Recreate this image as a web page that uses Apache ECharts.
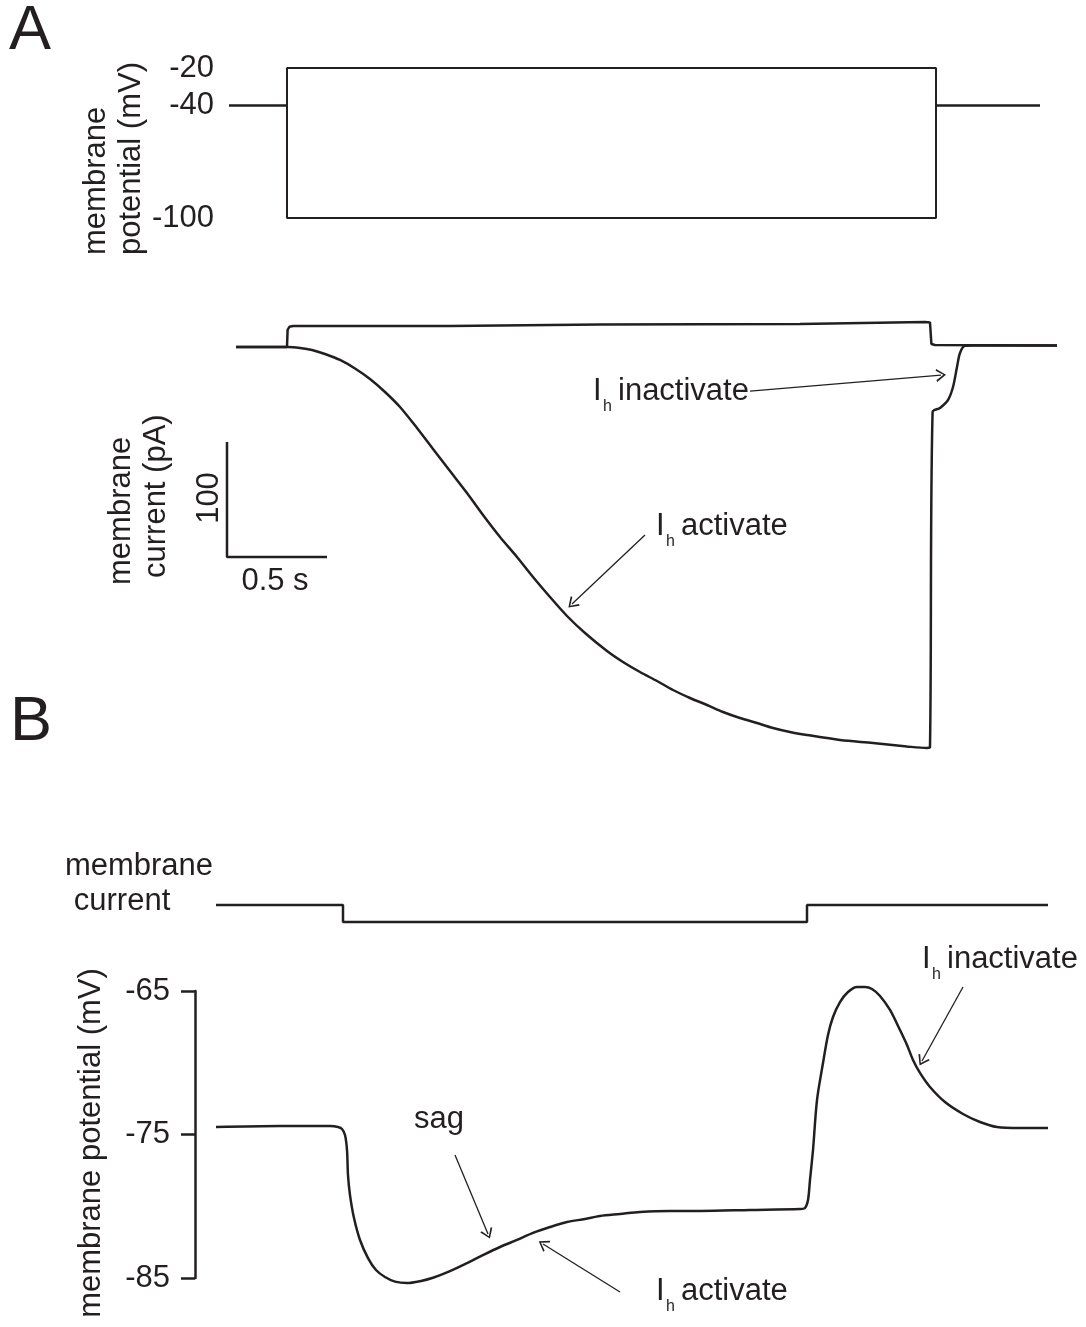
<!DOCTYPE html>
<html><head><meta charset="utf-8">
<script src="https://cdn.jsdelivr.net/npm/echarts@6/dist/echarts.min.js"></script>
<style>html,body{margin:0;padding:0;background:#fff}#c{width:1086px;height:1327px}</style>
</head><body><div id="c"></div>
<script>
// ---------- DATA (time in s, potential in mV, current in pA) ----------
// Panel A: voltage-clamp protocol (holding -40 mV, steps to -20 and -100 mV)
const aStepTo20 = [[-0.29,-40],[0,-40],[0,-20],[3.245,-20],[3.245,-40],[3.765,-40]];
const aStepTo100 = [[-0.29,-40],[0,-40],[0,-100],[3.245,-100],[3.245,-40],[3.765,-40]];
const aTickValues = [-20, -40, -100];
// Panel A: membrane currents
const aCurrentTo20 = [[-0.255,0],[0,0],[0.003,14.8],[0.012,17.6],[0.03,18.3],[0.815,18.3],[1.565,19.6],
  [2.565,20],[3.19,21.7],[3.215,21.3],[3.222,2.6],[3.24,1.7],[3.85,1.3]];
const aCurrentTo100 = [[-0.255,0],[0.005,0],[0.065,-0.87],[0.125,-2.61],[0.19,-6.09],[0.265,-11.3],
  [0.34,-18.7],[0.415,-27.83],[0.49,-39.13],[0.565,-52.17],[0.65,-70.43],[0.73,-88.7],[0.815,-107.83],
  [0.9,-126.96],[0.98,-146.09],[1.065,-165.22],[1.15,-182.61],[1.23,-200],[1.315,-217.39],[1.4,-233.91],
  [1.49,-248.7],[1.6,-264.35],[1.68,-273.91],[1.765,-282.61],[1.85,-290.43],[1.93,-298.26],[2.015,-305.22],
  [2.1,-311.3],[2.18,-317.39],[2.265,-322.61],[2.35,-326.96],[2.43,-331.3],[2.515,-334.78],[2.6,-337.39],
  [2.765,-341.74],[2.93,-344.35],[3.1,-347.39],[3.2,-348.7],[3.215,-347.8],[3.228,-56.5],[3.265,-53],
  [3.305,-46.1],[3.33,-34.8],[3.35,-17.4],[3.365,-5.2],[3.39,1],[3.43,1.3],[3.85,1.3]];
// scale bar: 0.5 s x 100 pA
const scaleBarOrigin = [-0.3, -182.6];
const scaleBarSize = [0.5, 100];
// Panel B: current-clamp step and membrane potential
const bCurrentStep = [[-0.635,0],[0,0],[0,-1],[2.32,-1],[2.32,0],[3.525,0]];
const bPotential = [[-0.635,-74.48],[-0.315,-74.41],[-0.065,-74.41],[-0.025,-74.48],[-0.005,-74.62],
  [0.01,-75.04],[0.02,-76.08],[0.025,-77.82],[0.035,-79.22],[0.055,-80.82],[0.085,-82.35],[0.125,-83.61],
  [0.165,-84.44],[0.21,-84.93],[0.26,-85.25],[0.32,-85.35],[0.385,-85.22],[0.45,-84.98],[0.535,-84.52],
  [0.62,-83.96],[0.71,-83.33],[0.785,-82.84],[0.87,-82.35],[0.95,-81.86],[1.035,-81.45],[1.12,-81.1],
  [1.21,-80.89],[1.285,-80.68],[1.385,-80.54],[1.485,-80.4],[1.635,-80.33],[1.785,-80.33],[2.035,-80.26],
  [2.285,-80.19],[2.31,-80.12],[2.325,-79.57],[2.335,-78.17],[2.35,-76.08],[2.37,-72.6],[2.4,-70.02],
  [2.425,-68.07],[2.45,-66.81],[2.485,-65.77],[2.525,-65.07],[2.57,-64.72],[2.61,-64.72],[2.645,-64.86],
  [2.685,-65.35],[2.735,-66.32],[2.785,-67.72],[2.82,-68.76],[2.85,-69.81],[2.885,-70.71],[2.935,-71.69],
  [3.01,-72.74],[3.1,-73.57],[3.185,-74.13],[3.27,-74.48],[3.385,-74.55],[3.525,-74.55]];
const bTickValues = [-85, -75, -65];
// annotation arrows [from, to] in data units
const aArrows = [[[2.315,-38.3],[3.27,-24.4]], [[1.79,-163.5],[1.425,-223.5]]];
const bArrows = [[[0.56,-76.43],[0.725,-81.93]], [[1.385,-85.98],[1.0,-82.63]], [[3.1,-64.72],[2.895,-69.88]]];

// ---------- STYLE ----------
const ink = '#231f20';
const FF = '"Liberation Sans", Arial, Helvetica, sans-serif';
const FS = 31;
const chevron = 'path://M0,10 L5,0 L10,10 L8.7,10.7 L5,2.8 L1.3,10.7 Z';

function lineSeries(data, xi, yi, width, extra) {
  return Object.assign({
    type: 'line', data: data, xAxisIndex: xi, yAxisIndex: yi, symbol: 'none', silent: true,
    clip: false, animation: false, lineStyle: { color: ink, width: width }
  }, extra || {});
}
function arrowMarks(arr) {
  return {
    silent: true, animation: false, symbol: ['none', chevron], symbolSize: [13, 10],
    label: { show: false }, lineStyle: { color: ink, width: 1.3, type: 'solid' },
    emphasis: { disabled: true },
    data: arr.map(a => [{ coord: a[0] }, { coord: a[1] }])
  };
}
function mid(base, fs) { return base - 0.3465 * fs; }
function txt(text, x, y, opts) {
  opts = opts || {};
  const fs = opts.fs || FS;
  return {
    type: 'text', x: x, y: y, rotation: opts.rot || 0, silent: true,
    style: {
      text: text, fill: ink, font: fs + 'px ' + FF, fontSize: fs, fontFamily: FF,
      align: opts.align || 'left', textAlign: opts.align || 'left',
      verticalAlign: 'middle', textVerticalAlign: 'middle'
    }
  };
}
function ihLabel(x, base, word) {
  return {
    type: 'group', x: x, y: base, silent: true,
    children: [
      txt('I', 0, mid(0, FS)),
      txt('h', 10, mid(10, 16), { fs: 16 }),
      txt(word, 25, mid(0, FS))
    ]
  };
}

const hiddenX = (gi, min, max) => ({ type: 'value', gridIndex: gi, min: min, max: max, show: false });
const noLine = { show: false, onZero: false };
// B potential: visible axis grid spans -85..-65 (991..1278 px);
// the trace and arrows use a hidden grid with the same scale and a wider range (-88..-62)
const bPxPerMv = 287 / 20;

const option = {
  backgroundColor: '#fff',
  animation: false,
  grid: [
    { left: 227, top: 68, width: 840, height: 150 },
    { left: 227, top: 301, width: 840, height: 460 },
    { left: 213, top: 905, width: 840, height: 17 },
    { left: 213, top: 991, width: 840, height: 287 },
    { left: 213, top: 991 - 3 * bPxPerMv, width: 840, height: 26 * bPxPerMv }
  ],
  xAxis: [hiddenX(0, -0.3, 3.9), hiddenX(1, -0.3, 3.9), hiddenX(2, -0.65, 3.55), hiddenX(3, -0.65, 3.55),
          hiddenX(4, -0.65, 3.55)],
  yAxis: [
    { type: 'value', gridIndex: 0, min: -100, max: -20, axisLine: noLine, axisTick: { show: false },
      splitLine: { show: false },
      axisLabel: { customValues: aTickValues, margin: 13, fontSize: FS, fontFamily: FF, color: ink } },
    { type: 'value', gridIndex: 1, min: -360, max: 40, show: false, axisLine: noLine },
    { type: 'value', gridIndex: 2, min: -1, max: 0, show: false, axisLine: noLine },
    { type: 'value', gridIndex: 3, min: -85, max: -65, offset: 18,
      axisLine: { show: true, onZero: false, lineStyle: { color: ink, width: 2.5 } },
      axisTick: { show: true, length: 14, customValues: bTickValues, lineStyle: { color: ink, width: 2.5 } },
      splitLine: { show: false },
      axisLabel: { customValues: bTickValues, margin: 25, fontSize: FS, fontFamily: FF, color: ink } },
    { type: 'value', gridIndex: 4, min: -88, max: -62, show: false, axisLine: noLine }
  ],
  series: [
    lineSeries(aStepTo20, 0, 0, 2),
    lineSeries(aStepTo100, 0, 0, 2),
    lineSeries(aCurrentTo20, 1, 1, 2.5),
    lineSeries(aCurrentTo100, 1, 1, 2.5, { smooth: 0.3, markLine: arrowMarks(aArrows) }),
    lineSeries([[scaleBarOrigin[0], scaleBarOrigin[1] + scaleBarSize[1]], scaleBarOrigin,
                [scaleBarOrigin[0] + scaleBarSize[0], scaleBarOrigin[1]]], 1, 1, 2.5),
    lineSeries(bCurrentStep, 2, 2, 2.5),
    lineSeries(bPotential, 4, 4, 2.5, { smooth: 0.3, markLine: arrowMarks(bArrows) })
  ],
  graphic: [
    txt('A', 9, mid(53, 63), { fs: 63 }),
    txt('B', 10, mid(744, 63), { fs: 63 }),
    // panel A top y label
    txt('membrane', 96, 255, { rot: Math.PI / 2 }),
    txt('potential (mV)', 131, 255, { rot: Math.PI / 2 }),
    // panel A bottom label + scale bar text
    txt('membrane', 121, 585, { rot: Math.PI / 2 }),
    txt('current (pA)', 156, 578, { rot: Math.PI / 2 }),
    txt('100', 209, 498, { rot: Math.PI / 2, align: 'center' }),
    txt('0.5 s', 275, mid(592, FS), { align: 'center' }),
    ihLabel(593, 402, 'inactivate'),
    ihLabel(656, 537, 'activate'),
    // panel B
    txt('membrane', 139, mid(877, FS), { align: 'center' }),
    txt('current', 122, mid(912, FS), { align: 'center' }),
    txt('membrane potential (mV)', 91, 1143, { rot: Math.PI / 2, align: 'center' }),
    txt('sag', 414, mid(1130, FS)),
    ihLabel(656, 1302, 'activate'),
    ihLabel(922, 970, 'inactivate')
  ]
};
const chart = echarts.init(document.getElementById('c'), null, { renderer: 'canvas' });
chart.setOption(option);
</script></body></html>
